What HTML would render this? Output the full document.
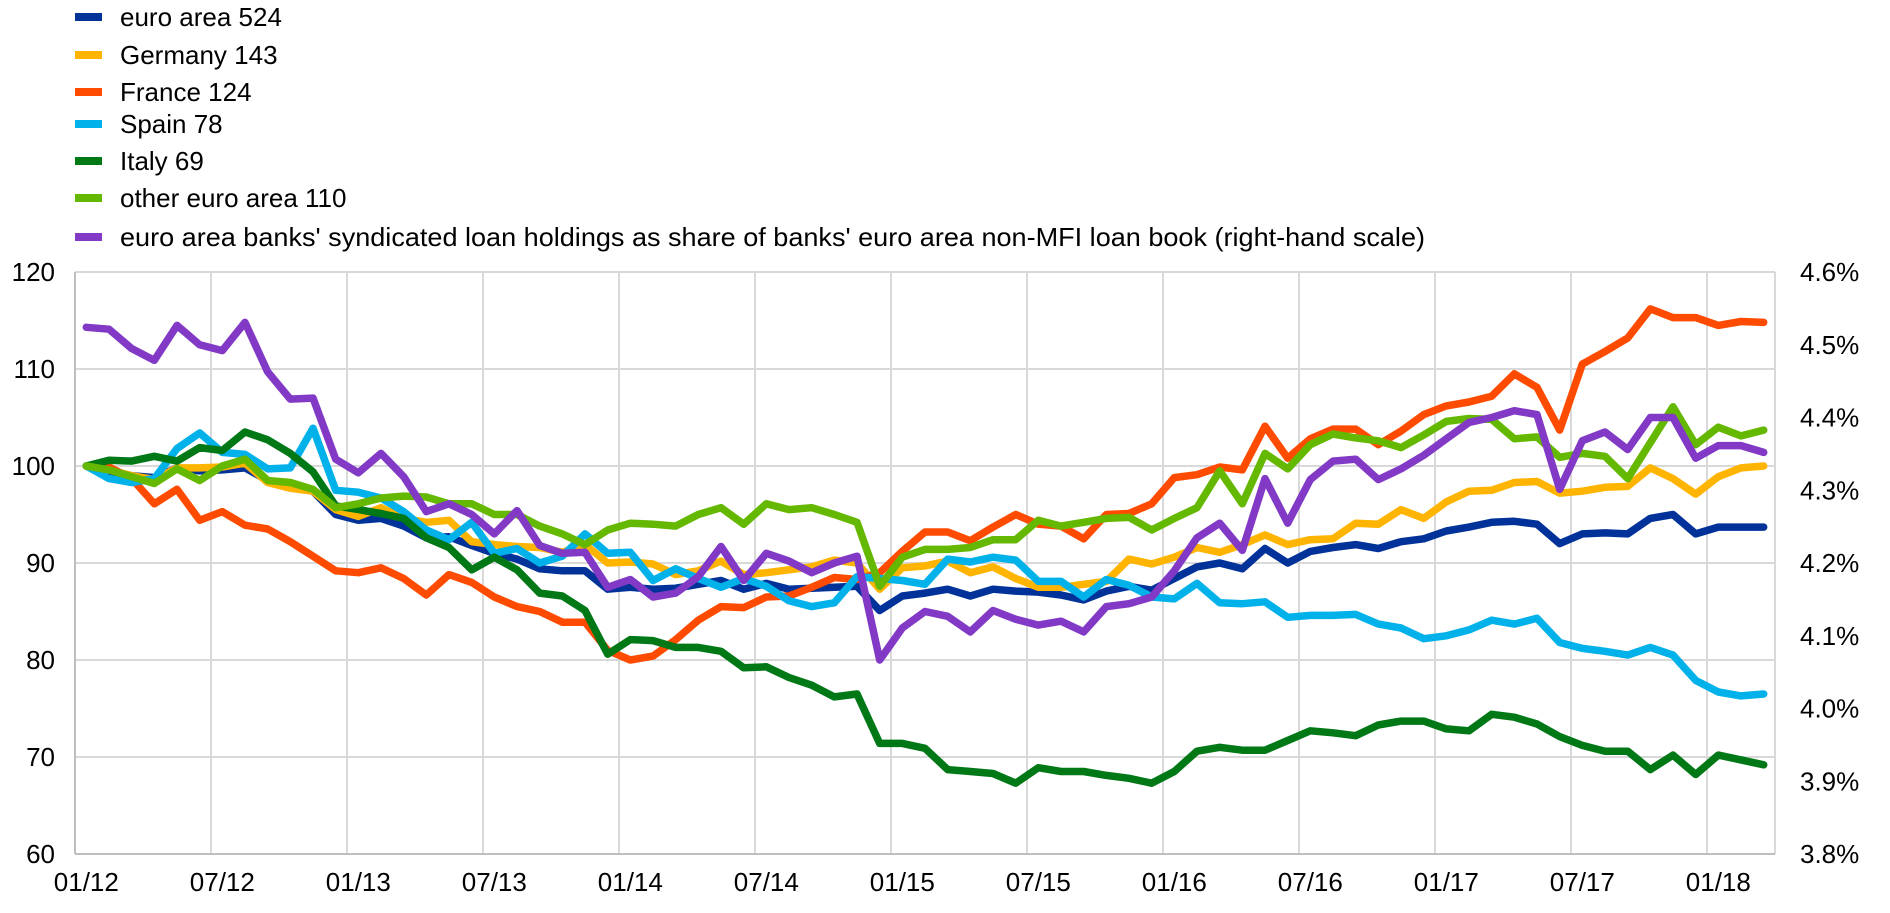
<!DOCTYPE html>
<html><head><meta charset="utf-8"><style>
html,body{margin:0;padding:0;background:#fff;}
svg{display:block;font-family:"Liberation Sans",Arial,sans-serif;}
</style></head><body>
<svg id="c" width="1890" height="913" viewBox="0 0 1890 913" xmlns="http://www.w3.org/2000/svg">
<g id="grid" stroke="#d9d9d9" stroke-width="2" fill="none"></g>
<g id="lines" fill="none" stroke-width="7.5" stroke-linejoin="round" stroke-linecap="round"></g>
<g id="labels" font-size="26" fill="#000"></g>
<g id="legend" font-size="26" fill="#000"></g>
</svg>
<script>
const NS="http://www.w3.org/2000/svg";
function el(t,a,p,txt){const e=document.createElementNS(NS,t);for(const k in a)e.setAttribute(k,a[k]);if(txt!==undefined)e.textContent=txt;p.appendChild(e);return e;}
const L=75,R=1775,T=272,B=854,step=(R-L)/75;
const X=i=>L+step*(i+0.5), Y=v=>T+(120-v)*9.7;
const g=document.getElementById('grid');
for(let v=60;v<=120;v+=10){el('line',{x1:L,x2:R,y1:Y(v),y2:Y(v)},g);}
for(let k=0;k<=12;k++){const x=L+6*k*step;el('line',{x1:x,x2:x,y1:T,y2:B},g);}
el('line',{x1:R,x2:R,y1:T,y2:B},g);
el('line',{x1:L,x2:R,y1:B,y2:B,stroke:"#bfbfbf"},g);
el('line',{x1:L,x2:L,y1:T,y2:B,stroke:"#bfbfbf"},g);
const lb=document.getElementById('labels');
const rl=["3.8%","3.9%","4.0%","4.1%","4.2%","4.3%","4.4%","4.5%","4.6%"];
for(let j=0;j<7;j++){const v=60+10*j;el('text',{x:55,y:Y(v)+9,'text-anchor':'end'},lb,String(v));}
for(let j=0;j<9;j++){const y=B-(B-T)*j/8;el('text',{x:1800,y:y+9},lb,rl[j]);}
const xl=["01/12","07/12","01/13","07/13","01/14","07/14","01/15","07/15","01/16","07/16","01/17","07/17","01/18"];
xl.forEach((s,k)=>el('text',{x:X(6*k),y:891,'text-anchor':'middle'},lb,s));
const S={
navy:[100,99.5,99,98.8,99.8,99.5,99.6,99.8,98.5,97.9,97.4,95,94.4,94.6,93.8,92.6,92.7,91.8,91,90.4,89.4,89.2,89.2,87.3,87.5,87.3,87.4,87.8,88.2,87.3,87.9,87.3,87.4,87.5,87.6,85.1,86.6,86.9,87.3,86.6,87.3,87.1,87,86.7,86.2,87.1,87.6,87.2,88.4,89.6,90,89.4,91.5,90,91.2,91.6,91.9,91.5,92.2,92.5,93.3,93.7,94.2,94.3,94,92,93,93.1,93,94.6,95,93,93.7,93.7,93.7],
yellow:[100,99.6,99,98.6,99.8,99.8,99.9,100.3,98.3,97.7,97.4,95.5,94.8,95.7,94.6,94.2,94.4,92.2,91.9,91.7,91.6,91.1,91.9,90,90.1,89.9,88.8,89.2,90.2,88.8,89,89.3,89.6,90.3,90,87.3,89.5,89.7,90.2,89,89.6,88.4,87.5,87.5,87.8,88.1,90.4,89.9,90.6,91.6,91.1,91.9,92.9,91.9,92.4,92.5,94.1,94,95.5,94.6,96.3,97.4,97.5,98.3,98.4,97.2,97.4,97.8,97.9,99.8,98.7,97.1,98.9,99.8,100],
orange:[100,99.9,98.7,96.1,97.6,94.4,95.3,93.9,93.5,92.2,90.7,89.2,89,89.5,88.4,86.7,88.8,88,86.5,85.5,85,83.9,83.9,81,80,80.4,82.1,84.1,85.5,85.4,86.5,86.6,87.5,88.5,88.3,89,91.2,93.2,93.2,92.3,93.7,95,94,93.8,92.5,95,95.1,96.1,98.8,99.1,99.9,99.6,104.1,100.8,102.8,103.8,103.8,102.2,103.6,105.3,106.2,106.6,107.2,109.5,108.1,103.7,110.5,111.8,113.2,116.2,115.3,115.3,114.5,114.9,114.8],
spain:[100,98.7,98.3,98.7,101.8,103.4,101.4,101.2,99.7,99.8,103.9,97.5,97.3,96.7,95.3,93.4,92.4,94.2,91,91.5,90,90.7,93,91,91.1,88.2,89.4,88.4,87.5,88.4,87.6,86.1,85.5,85.9,88.6,88.4,88.2,87.8,90.4,90.1,90.6,90.3,88.1,88.1,86.5,88.3,87.7,86.5,86.3,87.9,85.9,85.8,86,84.4,84.6,84.6,84.7,83.7,83.3,82.2,82.5,83.1,84.1,83.7,84.3,81.8,81.2,80.9,80.5,81.3,80.5,77.9,76.7,76.3,76.5],
italy:[100,100.6,100.5,101,100.5,101.9,101.6,103.5,102.7,101.3,99.4,95.9,95.5,95.1,94.6,92.6,91.6,89.3,90.6,89.3,86.9,86.6,85.1,80.6,82.1,82,81.3,81.3,80.9,79.2,79.3,78.2,77.4,76.2,76.5,71.4,71.4,70.9,68.7,68.5,68.3,67.3,68.9,68.5,68.5,68.1,67.8,67.3,68.5,70.6,71,70.7,70.7,71.7,72.7,72.5,72.2,73.3,73.7,73.7,72.9,72.7,74.4,74.1,73.4,72.1,71.2,70.6,70.6,68.7,70.2,68.2,70.2,69.7,69.2],
other:[100,99.6,98.9,98.2,99.7,98.5,100,100.7,98.5,98.3,97.6,95.7,96.1,96.7,96.9,96.8,96.1,96.1,95,95,93.8,93,91.9,93.4,94.1,94,93.8,95,95.7,94,96.1,95.5,95.7,95,94.2,87.6,90.6,91.4,91.4,91.6,92.4,92.4,94.4,93.8,94.2,94.6,94.7,93.4,94.6,95.7,99.5,96.1,101.3,99.7,102.2,103.3,102.9,102.6,101.9,103.2,104.6,104.9,104.8,102.8,103,100.9,101.3,101,98.7,102.4,106.1,102.2,104,103.1,103.7],
purple:[114.3,114.1,112.1,110.9,114.5,112.5,111.9,114.8,109.7,106.9,107,100.7,99.3,101.3,98.9,95.3,96.1,95,93,95.4,91.8,91,91.1,87.5,88.3,86.5,86.9,88.6,91.7,88.2,91,90.2,89,90,90.7,80,83.3,85,84.5,82.9,85.1,84.2,83.6,84,82.9,85.5,85.8,86.5,89.2,92.6,94.1,91.3,98.7,94.1,98.6,100.5,100.7,98.6,99.7,101.1,102.8,104.5,105,105.7,105.3,97.6,102.6,103.5,101.7,105,105,100.8,102.1,102.1,101.4]
};
const C={navy:"#003299",yellow:"#FFB400",orange:"#FF4B00",spain:"#00B1EA",italy:"#007816",other:"#65B800",purple:"#8139C6"};
const ln=document.getElementById('lines');
["navy","yellow","orange","spain","italy","other","purple"].forEach(k=>{
 el('polyline',{points:S[k].map((v,i)=>X(i).toFixed(1)+","+Y(v).toFixed(1)).join(" "),stroke:C[k]},ln);
});
const lg=document.getElementById('legend');
const items=[["navy","euro area 524",17],["yellow","Germany 143",55],["orange","France 124",92],["spain","Spain 78",124],["italy","Italy 69",161],["other","other euro area 110",198],["purple","euro area banks' syndicated loan holdings as share of banks' euro area non-MFI loan book (right-hand scale)",237]];
items.forEach(([k,t,y])=>{
 el('rect',{x:75,y:y-4,width:27,height:8,fill:C[k]},lg);
 const a={x:120,y:y+9};
 if(k==="purple"){a.textLength=1305;a.lengthAdjust="spacingAndGlyphs";}
 el('text',a,lg,t);
});
</script>
</body></html>
